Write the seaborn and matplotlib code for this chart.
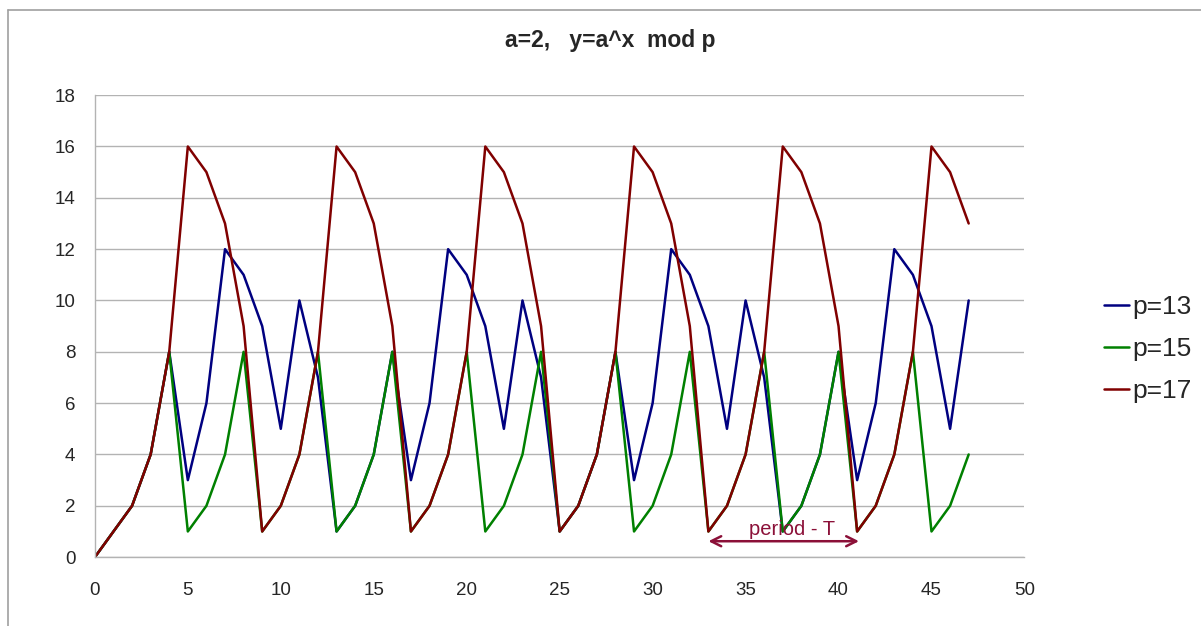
import matplotlib.pyplot as plt
import pandas as pd
import seaborn as sns
from matplotlib.lines import Line2D

x = list(range(48))

# a=2, y=a^x mod p
p13 = [0, 1, 2, 4, 8, 3, 6, 12, 11, 9, 5, 10, 7,
       1, 2, 4, 8, 3, 6, 12, 11, 9, 5, 10, 7,
       1, 2, 4, 8, 3, 6, 12, 11, 9, 5, 10, 7,
       1, 2, 4, 8, 3, 6, 12, 11, 9, 5, 10]
p15 = [0, 1, 2, 4, 8, 1, 2, 4, 8, 1, 2, 4, 8,
       1, 2, 4, 8, 1, 2, 4, 8, 1, 2, 4, 8,
       1, 2, 4, 8, 1, 2, 4, 8, 1, 2, 4, 8,
       1, 2, 4, 8, 1, 2, 4, 8, 1, 2, 4]
p17 = [0, 1, 2, 4, 8, 16, 15, 13, 9, 1, 2, 4, 8,
       16, 15, 13, 9, 1, 2, 4, 8, 16, 15, 13, 9,
       1, 2, 4, 8, 16, 15, 13, 9, 1, 2, 4, 8,
       16, 15, 13, 9, 1, 2, 4, 8, 16, 15, 13]

series_names = ["p=13", "p=15", "p=17"]
colors = ["#000080", "#008000", "#800000"]

df = pd.concat([
    pd.DataFrame({"x": x, "y": vals, "series": name})
    for name, vals in zip(series_names, [p13, p15, p17])
])

sns.set_style("white")
plt.rcParams["font.family"] = ["Liberation Sans", "DejaVu Sans"]

fig = plt.figure(figsize=(12.01, 6.26), dpi=100)
ax = fig.add_axes([0.079, 0.110, 0.774, 0.738])

sns.lineplot(data=df, x="x", y="y", hue="series", palette=colors,
             linewidth=1.8, ax=ax, sort=False)

ax.set_xlim(0, 50)
ax.set_ylim(0, 18)
ax.set_xticks(range(0, 51, 5))
ax.set_yticks(range(0, 19, 2))
ax.set_xlabel("")
ax.set_ylabel("")
ax.grid(axis="y", color="#b3b3b3", linewidth=1)
ax.set_axisbelow(True)
for side in ["top", "right"]:
    ax.spines[side].set_visible(False)
for side in ["left", "bottom"]:
    ax.spines[side].set_color("#b3b3b3")
    ax.spines[side].set_linewidth(1)
ax.tick_params(axis="both", direction="out", length=6, width=1,
               color="#b3b3b3", labelsize=13.5)
ax.tick_params(axis="x", pad=12)
ax.tick_params(axis="y", pad=8)

fig.text(0.508, 0.936, "a=2,   y=a^x  mod p", fontsize=16.5, fontweight="bold",
         ha="center", va="center")

# period annotation
ax.annotate("", xy=(33.0, 0.62), xytext=(41.1, 0.62),
            arrowprops=dict(arrowstyle="<->", color="#8b1038", lw=1.8,
                            mutation_scale=18, shrinkA=0, shrinkB=0))
ax.text(37.5, 0.72, "period - T", color="#8b1038", fontsize=14.5,
        ha="center", va="bottom")

handles, labels = ax.get_legend_handles_labels()
ax.get_legend().remove()
fig.legend(handles, labels, loc="center left",
           bbox_to_anchor=(1080 / 1201, 1 - 349 / 626),
           frameon=False, fontsize=19, handlelength=0.95, handletextpad=0.15,
           labelspacing=0.68)

# outer chart border (only top and left edges are visible)
fig.add_artist(Line2D([0.0067, 1.0], [0.984, 0.984], transform=fig.transFigure,
                      color="#a0a0a0", linewidth=1.2))
fig.add_artist(Line2D([0.0067, 0.0067], [0.0, 0.984], transform=fig.transFigure,
                      color="#a0a0a0", linewidth=1.2))

fig.savefig("out.png", dpi=100)
